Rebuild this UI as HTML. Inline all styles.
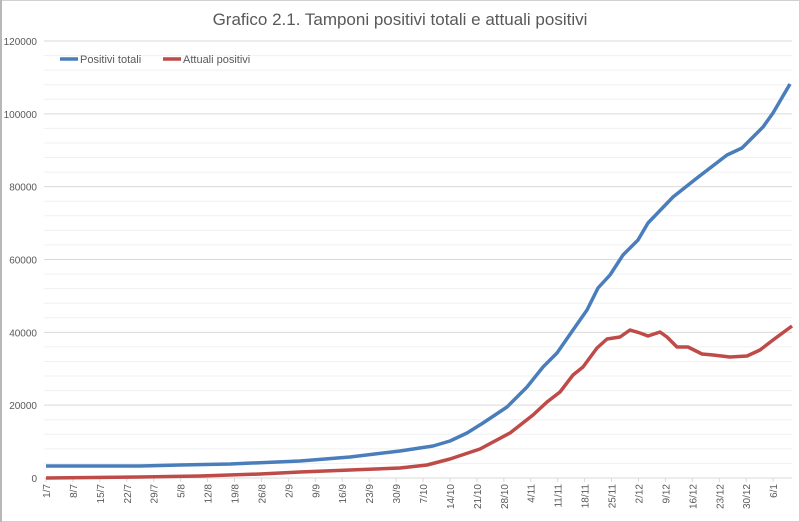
<!DOCTYPE html>
<html><head><meta charset="utf-8"><style>
body{margin:0;background:#fff}
svg{display:block;font-family:"Liberation Sans",sans-serif}
</style></head><body>
<svg width="800" height="522" viewBox="0 0 800 522">
<rect x="0.5" y="0.5" width="799" height="521" fill="#fff" stroke="#d0d0d0"/>
<rect x="0" y="0" width="2" height="522" fill="#b8b8b8"/>
<text x="400" y="25" text-anchor="middle" font-size="17" fill="#595959">Grafico 2.1. Tamponi positivi totali e attuali positivi</text>
<g id="grid"></g>
<g font-size="10" fill="#595959" text-anchor="end" id="ylab"></g>
<g font-size="10" fill="#595959" id="xlab"></g>
<line x1="44" y1="478" x2="792" y2="478" stroke="#d9d9d9"/>
<polyline fill="none" stroke="#4a7ebb" stroke-width="3.5" stroke-linejoin="round" points="46,466 140,466 180,465 230,464 300,461 350,457 400,451 433,446 450,441 467,433 483,423 507,407 527,387 543,367 557,353 573,330 587,310 598,288 610,275 623,255 638,240 648,223 673,197 697,178 727,155 742,148 763,127 773,113 790,84"/>
<polyline fill="none" stroke="#be4b48" stroke-width="3.5" stroke-linejoin="round" points="46,478 140,477 200,476 260,474 300,472 350,470 400,468 427,465 450,459 480,449 510,433 533,415 547,402 560,392 573,375 583,367 597,348 607,339 620,337 630,330 640,333 648,336 660,332 667,337 677,347 688,347 702,354 713,355 730,357 747,356 760,350 773,340 792,326"/>
<line x1="60" y1="59" x2="78" y2="59" stroke="#4a7ebb" stroke-width="3.5"/>
<text x="80" y="63" font-size="11" fill="#595959">Positivi totali</text>
<line x1="163" y1="59" x2="181" y2="59" stroke="#be4b48" stroke-width="3.5"/>
<text x="183" y="63" font-size="11" fill="#595959">Attuali positivi</text>
</svg>
<script>
var ns="http://www.w3.org/2000/svg",g=document.getElementById('grid');
for(var i=1;i<=30;i++){var y=478-i*437/30;var l=document.createElementNS(ns,'line');
l.setAttribute('x1',44);l.setAttribute('x2',792);l.setAttribute('y1',y);l.setAttribute('y2',y);
l.setAttribute('stroke',i%5==0?'#d9d9d9':'#f0f0f0');g.appendChild(l);}
var yl=document.getElementById('ylab');
for(var i=0;i<=6;i++){var t=document.createElementNS(ns,'text');t.setAttribute('x',37);t.setAttribute('y',478-i*72.83+4);t.textContent=i*20000;yl.appendChild(t);}
var labs=["1/7","8/7","15/7","22/7","29/7","5/8","12/8","19/8","26/8","2/9","9/9","16/9","23/9","30/9","7/10","14/10","21/10","28/10","4/11","11/11","18/11","25/11","2/12","9/12","16/12","23/12","30/12","6/1"];
var xl=document.getElementById('xlab');
labs.forEach(function(s,i){var x=46+i*26.93;var t=document.createElementNS(ns,'text');
t.setAttribute('transform','translate('+(x+4)+',484) rotate(-90)');t.setAttribute('text-anchor','end');t.textContent=s;xl.appendChild(t);
var l=document.createElementNS(ns,'line');l.setAttribute('x1',x);l.setAttribute('x2',x);l.setAttribute('y1',478);l.setAttribute('y2',482);l.setAttribute('stroke','#d9d9d9');xl.appendChild(l);});
</script>
</body></html>
